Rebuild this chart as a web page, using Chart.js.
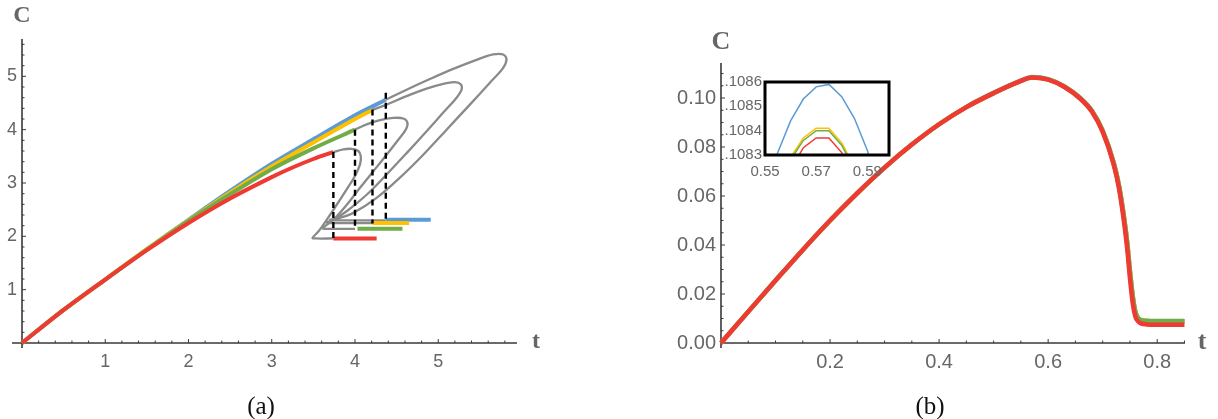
<!DOCTYPE html>
<html>
<head>
<meta charset="utf-8">
<script src="https://cdn.jsdelivr.net/npm/chart.js@4.4.1/dist/chart.umd.min.js"></script>
<style>
  body { margin: 0; background: #fff; }
  #wrap { position: relative; width: 1218px; height: 419px; }
  canvas { position: absolute; }
  .cap { position: absolute; font-family: 'Liberation Serif', serif; font-size: 25px; color: #111; transform: translate(-50%, -50%); }
</style>
</head>
<body>
<div id="wrap">
  <canvas id="chartA" width="600" height="419" style="left:0;top:0"></canvas>
  <canvas id="chartB" width="618" height="419" style="left:600px;top:0"></canvas>
  <canvas id="chartInset" width="200" height="115" style="left:705px;top:70px"></canvas>
  <div class="cap" style="left:261px;top:406px">(a)</div>
  <div class="cap" style="left:930px;top:406px">(b)</div>
</div>
<script>
// ---------- panel (a) ----------
// stable branches
const tBlueA   = [0, 0.5, 1, 1.5, 2, 2.5, 3, 3.5, 4, 4.37];
const cBlueA   = [0, 0.62, 1.19, 1.76, 2.31, 2.85, 3.36, 3.82, 4.27, 4.56];
const tYellowA = [0, 0.5, 1, 1.5, 2, 2.5, 3, 3.5, 4, 4.21];
const cYellowA = [0, 0.62, 1.19, 1.76, 2.30, 2.82, 3.31, 3.76, 4.20, 4.37];
const tGreenA  = [0, 0.5, 1, 1.5, 2, 2.5, 3, 3.5, 4];
const cGreenA  = [0, 0.62, 1.19, 1.75, 2.29, 2.79, 3.26, 3.65, 4.0];
const tRedA    = [0, 0.5, 1, 1.5, 2, 2.5, 3, 3.25, 3.5, 3.74];
const cRedA    = [0, 0.62, 1.19, 1.74, 2.25, 2.71, 3.11, 3.29, 3.45, 3.58];

// unstable (gray) loops
const tLoopRed    = [3.74, 3.86, 3.96, 4.04, 4.07, 4.06, 4.0, 3.9, 3.78, 3.66, 3.56, 3.49, 3.53, 3.74];
const cLoopRed    = [3.58, 3.63, 3.64, 3.60, 3.50, 3.35, 3.13, 2.88, 2.59, 2.31, 2.09, 1.97, 1.96, 1.96];
const tLoopGreen  = [4.0, 4.14, 4.30, 4.46, 4.58, 4.63, 4.61, 4.52, 4.38, 4.22, 4.06, 3.90, 3.74, 3.64, 3.61, 3.65, 4.0];
const cLoopGreen  = [4.0, 4.10, 4.18, 4.22, 4.21, 4.13, 4.0, 3.81, 3.53, 3.22, 2.91, 2.59, 2.31, 2.19, 2.15, 2.14, 2.14];
const tLoopYellow = [4.21, 4.38, 4.62, 4.86, 5.06, 5.20, 5.27, 5.28, 5.22, 5.06, 4.86, 4.62, 4.38, 4.14, 3.90, 3.74, 3.66, 3.71, 4.21];
const cLoopYellow = [4.37, 4.47, 4.63, 4.77, 4.86, 4.89, 4.85, 4.75, 4.60, 4.32, 3.97, 3.56, 3.16, 2.78, 2.47, 2.31, 2.26, 2.25, 2.25];
const tLoopBlue   = [4.37, 4.62, 4.90, 5.18, 5.46, 5.66, 5.78, 5.82, 5.78, 5.62, 5.38, 5.10, 4.82, 4.54, 4.26, 3.98, 3.78, 3.70, 3.76, 4.37];
const cLoopBlue   = [4.56, 4.75, 4.95, 5.14, 5.31, 5.41, 5.41, 5.32, 5.16, 4.88, 4.47, 4.00, 3.53, 3.10, 2.72, 2.44, 2.33, 2.31, 2.30, 2.30];

// jumps (dashed) and lower branches
const dashT      = [3.74, 4.0, 4.21, 4.37];
const dashTop    = [3.58, 4.0, 4.38, 4.69];
const dashBottom = [1.94, 2.13, 2.24, 2.30];
const lowStartT  = [3.74, 4.03, 4.21, 4.37];  // red, green, yellow, blue
const lowEndT    = [4.26, 4.57, 4.65, 4.91];
const lowC       = [1.96, 2.14, 2.25, 2.31];

const ticksAX = [1, 2, 3, 4, 5];
const ticksAY = [1, 2, 3, 4, 5];

// ---------- panel (b) ----------
const tB = [0, 0.05, 0.1, 0.15, 0.2, 0.25, 0.3, 0.35, 0.4, 0.45, 0.5, 0.55, 0.57, 0.6, 0.63, 0.66, 0.68, 0.7, 0.72, 0.73, 0.74, 0.745, 0.75, 0.755, 0.76, 0.765, 0.77, 0.78, 0.8, 0.85];
const cRedB    = [0, 0.0128, 0.0255, 0.0380, 0.0500, 0.0612, 0.0716, 0.0810, 0.0893, 0.0963, 0.1020, 0.1070, 0.10837, 0.1075, 0.1045, 0.0995, 0.0945, 0.0862, 0.0730, 0.0630, 0.0480, 0.0385, 0.0265, 0.0165, 0.0108, 0.0088, 0.0080, 0.0076, 0.0075, 0.0075];
const cGreenB  = [0, 0.0128, 0.0255, 0.0380, 0.0500, 0.0612, 0.0716, 0.0810, 0.0893, 0.0963, 0.1020, 0.1070, 0.10840, 0.1076, 0.1046, 0.0997, 0.0948, 0.0866, 0.0736, 0.0640, 0.0498, 0.0408, 0.0292, 0.0192, 0.0126, 0.0102, 0.0094, 0.0091, 0.0090, 0.0090];
const cYellowB = [0, 0.0128, 0.0255, 0.0380, 0.0500, 0.0612, 0.0716, 0.0810, 0.0893, 0.0963, 0.1020, 0.1070, 0.10841, 0.1076, 0.1046, 0.0997, 0.0948, 0.0866, 0.0736, 0.0640, 0.0498, 0.0408, 0.0292, 0.0192, 0.0126, 0.0102, 0.0094, 0.0090, 0.0089, 0.0089];
const cBlueB   = [0, 0.0128, 0.0255, 0.0380, 0.0500, 0.0612, 0.0716, 0.0810, 0.0893, 0.0963, 0.1021, 0.1071, 0.10858, 0.1077, 0.1047, 0.0998, 0.0949, 0.0868, 0.0738, 0.0642, 0.0500, 0.0410, 0.0295, 0.0195, 0.0128, 0.0102, 0.0094, 0.0090, 0.0089, 0.0089];

const ticksBX = [0.2, 0.4, 0.6, 0.8];
const ticksBY = [0, 0.02, 0.04, 0.06, 0.08, 0.10];

// inset of (b)
const tIn       = [0.55, 0.555, 0.56, 0.565, 0.57, 0.575, 0.58, 0.585, 0.59, 0.595, 0.6];
const cBlueIn   = [0.10818, 0.10831, 0.10844, 0.10853, 0.10858, 0.10859, 0.10854, 0.10845, 0.10832, 0.10815, 0.10795];
const cYellowIn = [0.10800, 0.10816, 0.10829, 0.10837, 0.10841, 0.10841, 0.10835, 0.10825, 0.10812, 0.10795, 0.10775];
const cGreenIn  = [0.10799, 0.10815, 0.10828, 0.10836, 0.10840, 0.10840, 0.10834, 0.10824, 0.10811, 0.10794, 0.10774];
const cRedIn    = [0.10795, 0.10811, 0.10824, 0.10833, 0.10837, 0.10837, 0.10831, 0.10821, 0.10808, 0.10791, 0.10771];
const ticksInX  = [0.55, 0.57, 0.59];
const ticksInY  = [0.1083, 0.1084, 0.1085, 0.1086];

// colours
const BLUE = '#5B9BD5', YELLOW = '#FFC000', GREEN = '#70AD47', RED = '#EE3A33', GRAY = '#8a8a8a';

Chart.defaults.font.family = "'Liberation Sans', Arial, sans-serif";
Chart.defaults.color = '#666';

const pts = (ts, cs) => ts.map((t, i) => ({ x: t, y: cs[i] }));

function line(data, color, width, extra) {
  return Object.assign({
    data: data, borderColor: color, borderWidth: width, pointRadius: 0,
    showLine: true, fill: false, tension: 0.3, clip: false
  }, extra || {});
}

// Mathematica-like axes crossing at the origin, with inward ticks
const mmaAxes = {
  id: 'mmaAxes',
  beforeDatasetsDraw(chart, args, o) {
    if (!o.on) return;
    const { ctx, chartArea: a, scales: { x, y } } = chart;
    const x0 = x.getPixelForValue(0), y0 = y.getPixelForValue(0);
    ctx.save();
    ctx.strokeStyle = '#3a3a3a';
    ctx.lineWidth = 1.6;
    ctx.beginPath();
    ctx.moveTo(a.left - o.xLeftOver, y0); ctx.lineTo(a.right, y0);
    ctx.moveTo(x0, a.top); ctx.lineTo(x0, a.bottom + 5);
    ctx.stroke();
    ctx.lineWidth = 1;
    ctx.beginPath();
    for (let i = 1; i * o.xMinor <= x.max + 1e-9; i++) {
      const v = i * o.xMinor, r = v / o.xMajor;
      const len = Math.abs(r - Math.round(r)) < 1e-6 ? 4 : 2.5;
      const p = x.getPixelForValue(v);
      ctx.moveTo(p, y0); ctx.lineTo(p, y0 - len);
    }
    for (let i = 1; i * o.yMinor <= y.max + 1e-9; i++) {
      const v = i * o.yMinor, r = v / o.yMajor;
      const len = Math.abs(r - Math.round(r)) < 1e-6 ? 4 : 2.5;
      const p = y.getPixelForValue(v);
      ctx.moveTo(x0, p); ctx.lineTo(x0 + len, p);
    }
    ctx.stroke();
    ctx.restore();
  },
  afterDraw(chart, args, o) {
    if (!o.on) return;
    const { ctx, chartArea: a, scales: { x, y } } = chart;
    const x0 = x.getPixelForValue(0), y0 = y.getPixelForValue(0);
    ctx.save();
    ctx.fillStyle = '#666';
    ctx.font = 'bold ' + o.titleSize + "px 'Liberation Serif', serif";
    ctx.textAlign = 'center';
    ctx.textBaseline = 'middle';
    ctx.fillText('C', x0, a.top - o.cGap);
    ctx.fillText('t', a.right + o.tGap, y0 - 1);
    ctx.restore();
  }
};

// black frame for the inset
const frame = {
  id: 'frame',
  afterDatasetsDraw(chart, args, o) {
    if (!o.on) return;
    const { ctx, chartArea: a } = chart;
    ctx.save();
    ctx.strokeStyle = '#000';
    ctx.lineWidth = 3;
    ctx.strokeRect(a.left, a.top, a.right - a.left, a.bottom - a.top);
    ctx.restore();
  }
};

Chart.register(mmaAxes, frame);

function axisOpts(min, max, tickList, fmt, size, pad, fitKey, fitVal) {
  return {
    type: 'linear', min: min, max: max,
    grid: { display: false, drawTicks: false }, border: { display: false },
    ticks: { autoSkip: false, maxRotation: 0, padding: pad, color: '#666', font: { size: size }, callback: fmt },
    afterBuildTicks: s => { s.ticks = tickList.map(v => ({ value: v })); },
    afterFit: s => { s[fitKey] = fitVal; }
  };
}

// ----- chart (a) -----
const dsA = [];
dashT.forEach((t, i) => dsA.push(line([{ x: t, y: dashTop[i] }, { x: t, y: dashBottom[i] }], '#000', 2.4, { borderDash: [6, 4], tension: 0 })));
const lowColors = [RED, GREEN, YELLOW, BLUE];
lowStartT.forEach((t, i) => dsA.push(line([{ x: t, y: lowC[i] }, { x: lowEndT[i], y: lowC[i] }], lowColors[i], 4, { tension: 0 })));
dsA.push(line(pts(tRedA, cRedA), RED, 4));
dsA.push(line(pts(tGreenA, cGreenA), GREEN, 4));
dsA.push(line(pts(tYellowA, cYellowA), YELLOW, 4));
dsA.push(line(pts(tBlueA, cBlueA), BLUE, 4));
dsA.push(line(pts(tLoopRed, cLoopRed), GRAY, 2.3, { tension: 0.35 }));
dsA.push(line(pts(tLoopGreen, cLoopGreen), GRAY, 2.3, { tension: 0.35 }));
dsA.push(line(pts(tLoopYellow, cLoopYellow), GRAY, 2.3, { tension: 0.35 }));
dsA.push(line(pts(tLoopBlue, cLoopBlue), GRAY, 2.3, { tension: 0.35 }));

new Chart(document.getElementById('chartA'), {
  type: 'scatter',
  data: { datasets: dsA },
  options: {
    responsive: false, animation: false, devicePixelRatio: 1,
    layout: { padding: { left: 0, top: 39, right: 83, bottom: 0 } },
    scales: {
      x: axisOpts(0, 5.946, ticksAX, v => String(v), 18, 8, 'height', 76),
      y: axisOpts(0, 5.70, ticksAY, v => String(v), 18, 5, 'width', 22)
    },
    plugins: {
      legend: { display: false }, tooltip: { enabled: false },
      mmaAxes: { on: true, xMinor: 0.2, xMajor: 1, yMinor: 0.2, yMajor: 1, xLeftOver: 10, titleSize: 24, cGap: 23, tGap: 19 }
    }
  }
});

// ----- chart (b) -----
new Chart(document.getElementById('chartB'), {
  type: 'scatter',
  data: {
    datasets: [
      line(pts(tB, cRedB), RED, 4.5, { cubicInterpolationMode: 'monotone' }),
      line(pts(tB, cGreenB), GREEN, 4.5, { cubicInterpolationMode: 'monotone' }),
      line(pts(tB, cYellowB), YELLOW, 4.5, { cubicInterpolationMode: 'monotone' }),
      line(pts(tB, cBlueB), BLUE, 4.5, { cubicInterpolationMode: 'monotone' })
    ]
  },
  options: {
    responsive: false, animation: false, devicePixelRatio: 1,
    layout: { padding: { left: 0, top: 63, right: 33, bottom: 0 } },
    scales: {
      x: axisOpts(0, 0.851, ticksBX, v => v.toFixed(1), 20, 7, 'height', 76),
      y: axisOpts(0, 0.1143, ticksBY, v => v.toFixed(2), 20, 5, 'width', 121)
    },
    plugins: {
      legend: { display: false }, tooltip: { enabled: false },
      mmaAxes: { on: true, xMinor: 0.05, xMajor: 0.2, yMinor: 0.005, yMajor: 0.02, xLeftOver: 0, titleSize: 26, cGap: 21, tGap: 17 }
    }
  }
});

// ----- inset -----
new Chart(document.getElementById('chartInset'), {
  type: 'scatter',
  data: {
    datasets: [
      line(pts(tIn, cRedIn), RED, 1.5, { tension: 0, clip: undefined }),
      line(pts(tIn, cGreenIn), GREEN, 1.5, { tension: 0, clip: undefined }),
      line(pts(tIn, cYellowIn), YELLOW, 1.5, { tension: 0, clip: undefined }),
      line(pts(tIn, cBlueIn), BLUE, 1.5, { tension: 0, clip: undefined })
    ]
  },
  options: {
    responsive: false, animation: false, devicePixelRatio: 1,
    layout: { padding: { left: 0, top: 6, right: 16, bottom: 0 } },
    scales: {
      x: axisOpts(0.55, 0.5985, ticksInX, v => v.toFixed(2), 15, 8, 'height', 30),
      y: axisOpts(0.1083, 0.1086, ticksInY, v => v.toFixed(4).slice(1), 15, 3, 'width', 60)
    },
    plugins: {
      legend: { display: false }, tooltip: { enabled: false },
      frame: { on: true }
    }
  }
});
</script>
</body>
</html>
